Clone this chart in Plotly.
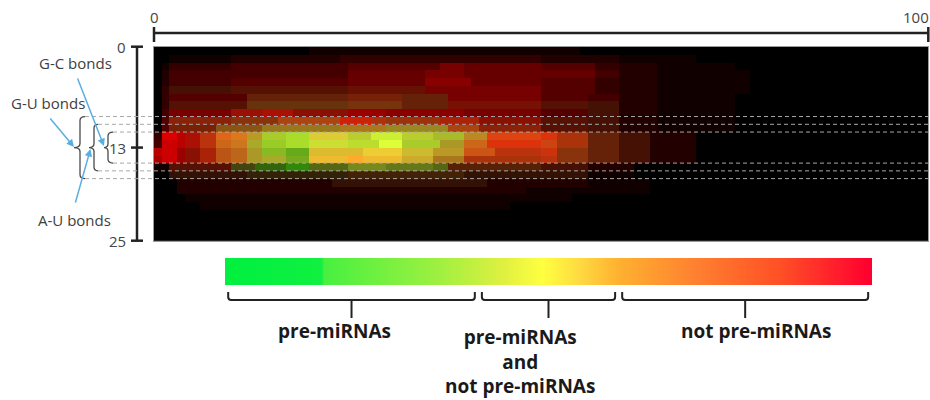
import numpy as np
import plotly.graph_objects as go

W, H = 930, 400

# ---------------- data ----------------
X_RANGE = [0, 100]
Y_RANGE = [0, 25]
X_TICKS = [0, 100]
Y_TICKS = [0, 13, 25]

# Heat-map cells, one string per row (top -> bottom), run-length coded:
# "count:RG" -> `count` cells with red = R, green = G (hex levels 0..f)
ROW_CELLS = [
    "20:00 35:10 45:00",
    "2:00 8:10 14:20 26:30 10:20 10:10 30:00",
    "1:00 1:10 8:30 15:40 12:50 3:70 10:60 7:50 3:30 5:20 10:10 25:00",
    "1:00 1:20 8:40 15:40 10:60 5:70 10:60 7:60 3:40 5:20 12:10 23:00",
    "1:00 1:20 8:40 15:50 10:60 6:80 9:60 7:50 3:30 5:20 12:10 23:00",
    "1:00 1:30 8:41 15:51 10:61 6:70 9:70 7:50 3:30 5:20 12:10 23:00",
    "1:00 1:30 10:50 13:62 7:72 6:62 12:70 6:50 4:40 5:20 10:10 25:00",
    "1:00 1:30 10:51 13:63 7:73 6:62 12:71 6:51 4:41 5:20 10:10 25:00",
    "1:00 1:40 8:70 4:91 4:a1 7:81 5:90 10:80 10:70 6:50 4:41 5:20 10:10 25:00",
    "1:00 1:50 8:82 6:83 8:a4 4:c2 2:a3 7:93 5:a2 8:81 6:51 4:41 5:20 10:10 25:00",
    "1:00 1:50 6:72 6:85 10:97 6:a7 8:98 4:a4 8:82 6:51 4:41 5:20 10:10 25:00",
    "1:30 2:d0 1:b0 2:a1 2:b3 2:d6 2:d7 2:b9 3:ac 3:ad 5:dc 3:bc 4:ce 4:bc 4:ab 3:b8 7:d4 2:d3 4:a3 4:62 4:41 6:20 30:00",
    "1:40 2:c0 1:b0 2:a1 2:b3 2:c6 2:c7 2:aa 3:9c 3:ad 5:cd 4:bd 3:df 5:ac 3:a9 3:c6 7:d3 2:c4 4:a3 4:62 4:41 6:20 30:00",
    "1:b0 2:c0 1:90 2:81 2:a2 2:b5 2:b6 2:a9 3:8b 3:6a 7:db 5:ec 4:cb 4:b9 4:c5 6:b3 2:c3 4:83 4:62 4:41 6:20 30:00",
    "1:a0 2:c0 1:90 2:81 2:a2 2:b5 2:b6 2:a9 3:aa 3:7a 5:eb 2:fa 5:eb 4:ca 4:a7 10:a3 2:b3 4:83 4:62 4:41 6:20 30:00",
    "2:10 8:51 3:44 4:36 3:38 5:56 5:78 6:67 2:56 12:52 6:41 6:20 38:00",
    "2:00 10:31 13:32 15:42 16:31 6:10 38:00",
    "3:00 20:20 20:31 13:20 8:10 36:00",
    "3:00 45:20 16:10 36:00",
    "4:00 50:10 46:00",
    "6:00 40:10 54:00",
    "100:00",
    "100:00",
    "100:00",
    "100:00",
]

# dashed guide levels (outer, middle, inner pairs)
BOND_LEVELS_TOP = [9, 10, 11]
BOND_LEVELS_BOTTOM = [17, 16, 15]
BOND_LABELS = ["G-U bonds", "A-U bonds", "G-C bonds"]   # outer, middle, inner brace

GRADIENT_VALUES = list(range(0, 101))
GRADIENT_COLORS = [
    [0.0, "#00f040"], [0.145, "#10f040"], [0.15, "#48f040"], [0.33, "#a0f040"],
    [0.43, "#e0f040"], [0.49, "#ffff40"], [0.55, "#ffd840"], [0.61, "#ffb030"],
    [0.73, "#ff8030"], [0.86, "#ff5025"], [1.0, "#ff0030"],
]
CLASS_LABELS = ["pre-miRNAs", "pre-miRNAs<br>and<br>not pre-miRNAs", "not pre-miRNAs"]
CLASS_SPANS = [(0.0, 38.5), (39.6, 60.4), (61.5, 99.9)]

# ---------------- build cell image ----------------
img = []
for s in ROW_CELLS:
    row = []
    for tok in s.split():
        n, rg = tok.split(":")
        r = int(rg[0], 16) * 17
        g = int(rg[1], 16) * 17
        row += [[r, g, min(r, g) // 4]] * int(n)
    assert len(row) == 100, (s, len(row))
    img.append(row)
img = np.array(img, dtype=np.uint8)

# ---------------- geometry helpers (pixels -> paper) ----------------
HM_L, HM_R, HM_T, HM_B = 154, 928.3, 46.7, 240.7
CB_L, CB_R, CB_T, CB_B = 225, 872, 258, 285


def X(px):
    return px / W


def Y(py):
    return 1 - py / H


def hx(v):
    return HM_L + (v - X_RANGE[0]) / (X_RANGE[1] - X_RANGE[0]) * (HM_R - HM_L)


def hy(v):
    return HM_T + (v - Y_RANGE[0]) / (Y_RANGE[1] - Y_RANGE[0]) * (HM_B - HM_T)


def gx(v):
    return CB_L + (v + 0.5) / 101 * (CB_R - CB_L)


fig = go.Figure()
fig.add_trace(go.Image(z=img, x0=0.5, dx=1, y0=0.5, dy=1, hoverinfo="skip"))
fig.add_trace(go.Heatmap(
    z=[GRADIENT_VALUES, GRADIENT_VALUES], x=GRADIENT_VALUES, y=[0, 1],
    colorscale=GRADIENT_COLORS, zmin=0, zmax=100, showscale=False,
    zsmooth="best", xaxis="x2", yaxis="y2", hoverinfo="skip"))

shapes = []
AX = dict(color="#222222", width=2.5)


def line(x0, y0, x1, y1, **ln):
    shapes.append(dict(type="line", xref="paper", yref="paper",
                       x0=X(x0), y0=Y(y0), x1=X(x1), y1=Y(y1), line=ln))


# top axis
line(hx(X_RANGE[0]), 33, hx(X_RANGE[1]), 33, **AX)
for v in X_TICKS:
    line(hx(v), 27, hx(v), 42, **AX)
# left axis
line(137, hy(Y_RANGE[0]), 137, hy(Y_RANGE[1]), **AX)
for v in Y_TICKS:
    line(131, hy(v), 143, hy(v), **AX)

# braces + dashed guides
BRACES = [(74, 80, 85), (89, 94, 98), (104, 108, 113)]  # tip, spine, ends (px)
mid = hy(13)
for (tip, sp, end), top, bot in zip(BRACES, BOND_LEVELS_TOP, BOND_LEVELS_BOTTOM):
    yt, yb = hy(top), hy(bot)
    for yv in (yt, yb):
        line(end, yv, hx(X_RANGE[1]), yv, color="#a8a8a8", width=1, dash="4px,3px")
    r = 4
    pts = (f"M{X(end)},{Y(yt)} Q{X(sp)},{Y(yt)} {X(sp)},{Y(yt + r)} "
           f"L{X(sp)},{Y(mid - r)} Q{X(sp)},{Y(mid)} {X(tip)},{Y(mid)} "
           f"Q{X(sp)},{Y(mid)} {X(sp)},{Y(mid + r)} "
           f"L{X(sp)},{Y(yb - r)} Q{X(sp)},{Y(yb)} {X(end)},{Y(yb)}")
    shapes.append(dict(type="path", xref="paper", yref="paper", path=pts,
                       line=dict(color="#4a4a4a", width=1.3)))

# class brackets under the colour bar
for (a, b) in CLASS_SPANS:
    xa, xb = gx(a), gx(b)
    xm = (xa + xb) / 2
    r = 3
    p = (f"M{X(xa)},{Y(292)} L{X(xa)},{Y(300 - r)} Q{X(xa)},{Y(300)} {X(xa + r)},{Y(300)} "
         f"L{X(xb - r)},{Y(300)} Q{X(xb)},{Y(300)} {X(xb)},{Y(300 - r)} L{X(xb)},{Y(292)}")
    shapes.append(dict(type="path", xref="paper", yref="paper", path=p,
                       line=dict(color="#222222", width=2)))
    line(xm, 300, xm, 318, color="#222222", width=2)

annotations = []
TICKF = dict(family="Open Sans", size=15, color="#454545")
for v in X_TICKS:
    if v == X_RANGE[1]:
        annotations.append(dict(x=X(931), y=Y(17), text=str(v), xanchor="right",
                                yanchor="middle", showarrow=False, font=TICKF,
                                xref="paper", yref="paper"))
    else:
        annotations.append(dict(x=X(hx(v)), y=Y(17), text=str(v), xanchor="center",
                                yanchor="middle", showarrow=False, font=TICKF,
                                xref="paper", yref="paper"))
for v in Y_TICKS:
    annotations.append(dict(x=X(128), y=Y(hy(v)), text=str(v), xanchor="right",
                            yanchor="middle", showarrow=False, font=TICKF,
                            xref="paper", yref="paper"))

# bond labels and arrows: label centre, arrow tail, arrow head (px)
LABEL_POS = [(47.5, 103), (74, 220), (75, 63)]
ARROWS = [((49, 117), (74, 147)), ((75, 204), (90.5, 149)), ((77, 77), (104, 146))]
LBLF = dict(family="Open Sans", size=15, color="#404040")
for lab, (lx, ly), (tail, head) in zip(BOND_LABELS, LABEL_POS, ARROWS):
    annotations.append(dict(x=X(lx), y=Y(ly), text=lab, showarrow=False, font=LBLF,
                            xref="paper", yref="paper", xanchor="center", yanchor="middle"))
    annotations.append(dict(x=X(head[0]), y=Y(head[1]), ax=tail[0] - head[0], ay=tail[1] - head[1],
                            text="", showarrow=True, arrowhead=2, arrowsize=1, arrowwidth=1.5,
                            arrowcolor="#5aaee0", standoff=0, xref="paper", yref="paper"))

CLSF = dict(family="Open Sans", size=19, color="#1a1a1a")
CLASS_POS = [(334, 331), (520, 361), (756, 331)]
for lab, (cx, cy) in zip(CLASS_LABELS, CLASS_POS):
    annotations.append(dict(x=X(cx), y=Y(cy), text=f"<b>{lab}</b>", borderpad=0,
                            showarrow=False, font=CLSF, xref="paper", yref="paper",
                            xanchor="center", yanchor="middle", align="center"))

hidden = dict(showticklabels=False, ticks="", showgrid=False, zeroline=False)
fig.update_layout(
    width=W, height=H, margin=dict(l=0, r=0, t=0, b=0),
    paper_bgcolor="white", plot_bgcolor="black", showlegend=False,
    xaxis=dict(domain=[X(HM_L), X(HM_R)], range=X_RANGE, showline=True, mirror=True,
               linecolor="#9a9a9a", linewidth=1, **hidden),
    yaxis=dict(domain=[Y(HM_B), Y(HM_T)], range=[Y_RANGE[1], Y_RANGE[0]], autorange=False,
               scaleanchor=False, showline=True, mirror=True, linecolor="#9a9a9a",
               linewidth=1, **hidden),
    xaxis2=dict(domain=[X(CB_L), X(CB_R)], range=[-0.5, 100.5], anchor="y2", visible=False),
    yaxis2=dict(domain=[Y(CB_B), Y(CB_T)], range=[-0.5, 1.5], anchor="x2", visible=False),
    shapes=shapes, annotations=annotations,
)
fig.write_html("out.html", config={"displayModeBar": False},
               post_script="document.body.style.margin='0';")
